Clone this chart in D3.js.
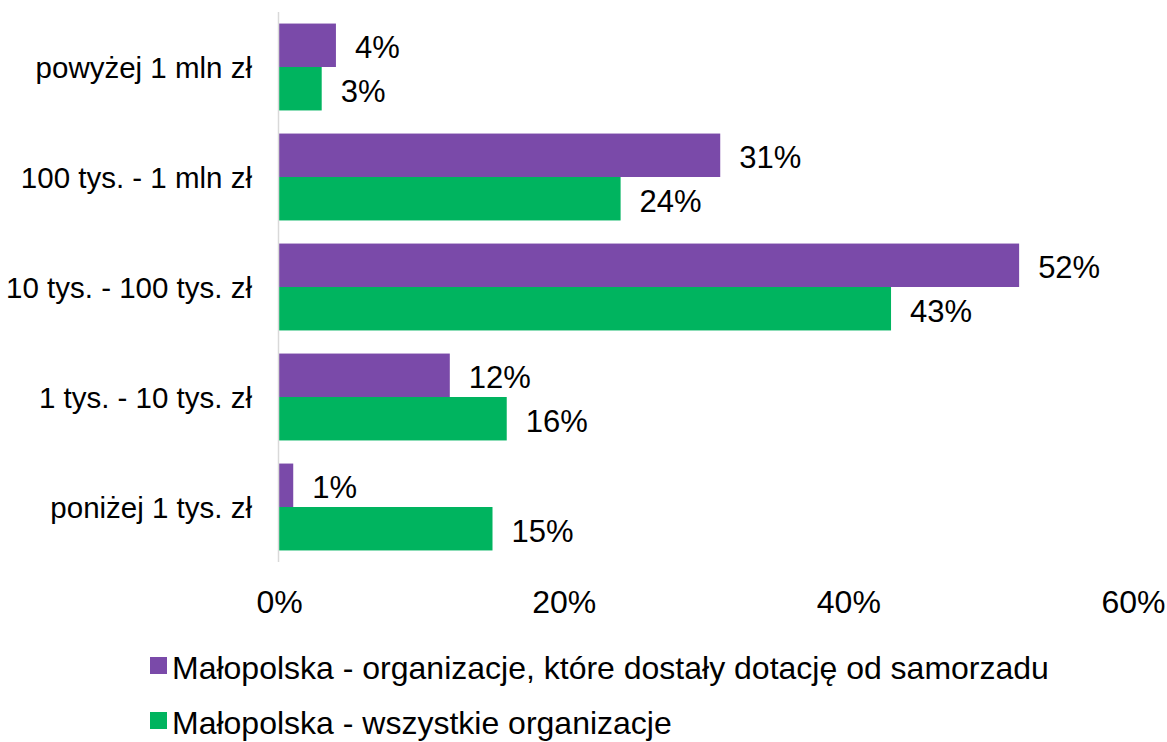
<!DOCTYPE html>
<html>
<head>
<meta charset="utf-8">
<script src="https://cdn.jsdelivr.net/npm/d3@7"></script>
<style>
  html, body { margin: 0; padding: 0; background: #fff; }
  svg { display: block; font-family: "Liberation Sans", Arial, sans-serif; }
</style>
</head>
<body>
<svg id="chart" width="1167" height="742"></svg>
<script>
// Categories, top to bottom
const categories = [
  "powyżej 1 mln zł",
  "100 tys. - 1 mln zł",
  "10 tys. - 100 tys. zł",
  "1 tys. - 10 tys. zł",
  "poniżej 1 tys. zł"
];
// Share of organisations (%) per budget range
const seriesNames = [
  "Małopolska - organizacje, które dostały dotację od samorzadu",
  "Małopolska - wszystkie organizacje"
];
const dotowane = [4, 31, 52, 12, 1];
const wszystkie = [3, 24, 43, 16, 15];
const seriesColors = ["#7a4aa9", "#00b45f"];
const xTicks = [0, 20, 40, 60];

const svg = d3.select("#chart");
const margin = { left: 279, right: 34, top: 12, bottom: 180 };
const W = 1167, H = 742;

const x = d3.scaleLinear().domain([0, 60]).range([margin.left, W - margin.right]);
const y0 = d3.scaleBand().domain(categories).range([margin.top, H - margin.bottom]).paddingInner(0.21).paddingOuter(0.105);
const y1 = d3.scaleBand().domain([0, 1]).range([0, y0.bandwidth()]);

const series = [dotowane, wszystkie];

// bars with value labels
series.forEach((vals, si) => {
  const g = svg.append("g");
  g.selectAll("rect").data(vals).join("rect")
    .attr("x", x(0))
    .attr("y", (d, i) => y0(categories[i]) + y1(si))
    .attr("width", d => x(d) - x(0))
    .attr("height", y1.bandwidth())
    .attr("fill", seriesColors[si]);
  g.selectAll("text").data(vals).join("text")
    .attr("x", d => x(d) + 19)
    .attr("y", (d, i) => y0(categories[i]) + y1(si) + y1.bandwidth() / 2 + 13)
    .attr("font-size", 31)
    .attr("fill", "#000")
    .text(d => d + "%");
});

// vertical category axis line
svg.append("line")
  .attr("x1", x(0) - 0.5).attr("x2", x(0) - 0.5)
  .attr("y1", margin.top).attr("y2", H - margin.bottom)
  .attr("stroke", "#d9d9d9").attr("stroke-width", 1.5);

// category labels
const yAxis = d3.axisLeft(y0).tickSize(0).tickPadding(27);
const ya = svg.append("g").attr("transform", `translate(${x(0)},0)`).call(yAxis);
ya.select(".domain").remove();
ya.selectAll("text")
  .attr("dy", null).attr("y", 11)
  .attr("font-size", 29.5).attr("fill", "#000")
  .attr("font-family", "Liberation Sans, Arial, sans-serif");

// percentage axis labels
const xAxis = d3.axisBottom(x).tickValues(xTicks).tickFormat(d => d + "%").tickSize(0);
const xa = svg.append("g").attr("transform", `translate(0,${H - margin.bottom})`).call(xAxis);
xa.select(".domain").remove();
xa.selectAll("text")
  .attr("dy", null).attr("y", 51)
  .attr("font-size", 32).attr("fill", "#000")
  .attr("font-family", "Liberation Sans, Arial, sans-serif");

// legend
const legend = svg.append("g");
const legendBase = [679, 734];
seriesNames.forEach((name, i) => {
  legend.append("rect")
    .attr("x", 150).attr("y", legendBase[i] - 22)
    .attr("width", 17).attr("height", 17)
    .attr("fill", seriesColors[i]);
  legend.append("text")
    .attr("x", 172).attr("y", legendBase[i])
    .attr("font-size", 32)
    .attr("fill", "#000")
    .text(name);
});
</script>
</body>
</html>
